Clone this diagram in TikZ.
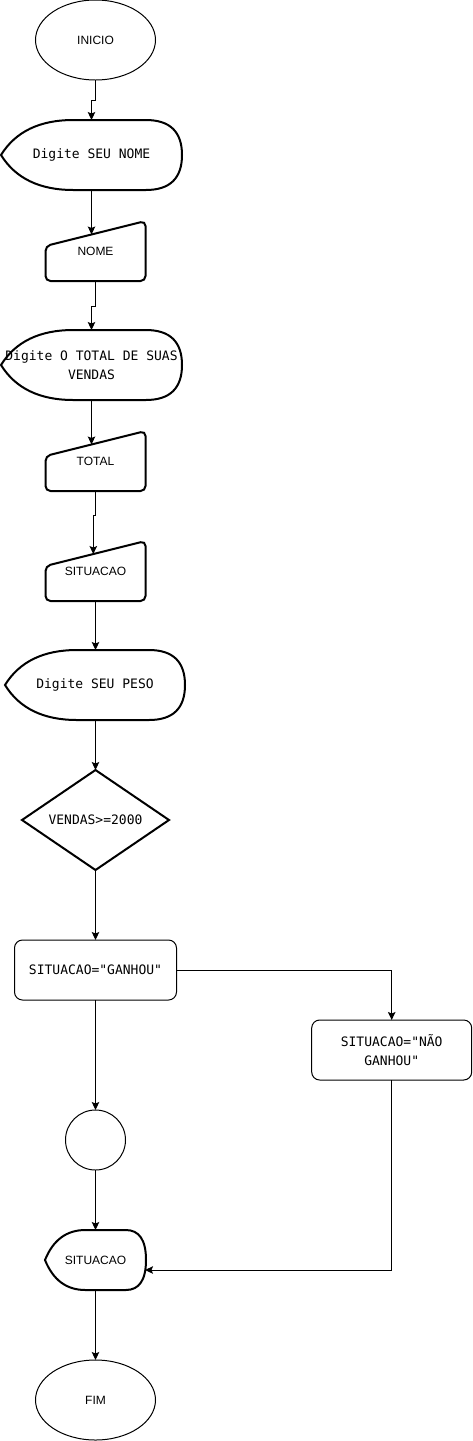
\documentclass[tikz,border=0pt]{standalone}
\usepackage{fontspec}
\setmainfont{Liberation Sans}
\newfontfamily\monofont{DejaVu Sans Mono}
\usetikzlibrary{arrows.meta,calc,shapes.geometric}

% display (output) shape drawn around an invisible node
\newcommand\dispshape[1]{%
 \draw[thickline] let \p1=(#1.north west), \p2=(#1.south east), \n1={\x2-\x1}, \n2={\y1-\y2} in
  (\x1,{(\y1+\y2)/2}) .. controls ({\x1+0.08*\n1},{\y1-\n2/6}) and ({\x1+0.213*\n1},\y1) .. ({\x1+0.4*\n1},\y1)
  -- ({\x2-0.2*\n1},\y1) .. controls ({\x2-0.0667*\n1},\y1) and (\x2,{\y1-\n2/6}) .. (\x2,{(\y1+\y2)/2})
  .. controls (\x2,{\y2+\n2/6}) and ({\x2-0.0667*\n1},\y2) .. ({\x2-0.2*\n1},\y2)
  -- ({\x1+0.4*\n1},\y2) .. controls ({\x1+0.213*\n1},\y2) and ({\x1+0.08*\n1},{\y2+\n2/6}) .. cycle;}
% manual input shape
\newcommand\inshape[1]{%
 \draw[thickline, rounded corners=5pt] ($(#1.north west)+(0,25)$) -- (#1.north east) -- (#1.south east) -- (#1.south west) -- cycle;}

\begin{document}
\begin{tikzpicture}[x=1pt,y=-1pt,
  thinshape/.style={draw, line width=1pt},
  box/.style={inner sep=0pt, outer sep=0pt},
  sanslbl/.style={font=\fontsize{12}{14}\selectfont},
  monolbl/.style={font=\monofont\fontsize{13}{19}\selectfont, align=center},
  thickline/.style={line width=2pt},
  conn/.style={line width=1pt, -{Stealth[length=8pt,width=7.5pt,inset=1.5pt]}}
]
\useasboundingbox (0,0) rectangle (472,1441);

% nodes
\node[box, ellipse, thinshape, minimum width=120pt, minimum height=80pt, sanslbl] (inicio) at (95.5,40) {INICIO};

\node[box, minimum width=181pt, minimum height=70pt, monolbl] (d1) at (91.5,155) {Digite SEU NOME};
\dispshape{d1}

\node[box, minimum width=100pt, minimum height=60pt, sanslbl] (nome) at (95.5,251) {NOME};
\inshape{nome}

\node[box, minimum width=181pt, minimum height=70pt, monolbl] (d2) at (91.5,365) {Digite O TOTAL DE SUAS\\VENDAS};
\dispshape{d2}

\node[box, minimum width=100pt, minimum height=60pt, sanslbl] (total) at (95.5,461) {TOTAL};
\inshape{total}

\node[box, minimum width=100pt, minimum height=60pt, sanslbl] (sit) at (95.5,571) {SITUACAO};
\inshape{sit}

\node[box, minimum width=180pt, minimum height=70pt, monolbl] (d3) at (95,685) {Digite SEU PESO};
\dispshape{d3}

\node[box, minimum width=147pt, minimum height=100pt, monolbl] (dec) at (95.5,820) {VENDAS>=2000};
\draw[thickline] (dec.north) -- (dec.east) -- (dec.south) -- (dec.west) -- cycle;

\node[box, thinshape, rounded corners=8pt, minimum width=162pt, minimum height=60pt, monolbl] (ganhou) at (95.5,970) {SITUACAO="GANHOU"};

\node[box, thinshape, rounded corners=8pt, minimum width=160pt, minimum height=60pt, monolbl] (nao) at (391.7,1050) {SITUACAO="NÃO\\GANHOU"};

\node[box, circle, thinshape, minimum size=60pt] (circ) at (95.5,1140) {};

\node[box, minimum width=101pt, minimum height=60pt, sanslbl] (d4) at (95.5,1260) {SITUACAO};
\dispshape{d4}

\node[box, ellipse, thinshape, minimum width=120pt, minimum height=80pt, sanslbl] (fim) at (95.5,1400) {FIM};

% helper coordinates on slanted tops
\coordinate (nomeTL) at ($(nome.north west)+(0,25)$);
\coordinate (nomeIn) at ($(nomeTL)!0.46!(nome.north east)$);
\coordinate (totalTL) at ($(total.north west)+(0,25)$);
\coordinate (totalIn) at ($(totalTL)!0.46!(total.north east)$);
\coordinate (sitTL) at ($(sit.north west)+(0,25)$);
\coordinate (sitIn) at ($(sitTL)!0.478!(sit.north east)$);
\coordinate (d4in) at ($(d4.east)+(-1,10)$);

% connectors
\draw[conn] (inicio.south) -- ++(0,20) -| (d1.north);
\draw[conn] (d1.south) -- (d1.south |- nomeIn);
\draw[conn] (nome.south) -- ++(0,25) -| (d2.north);
\draw[conn] (d2.south) -- (d2.south |- totalIn);
\draw[conn] (total.south) -- ++(0,24) -| (sitIn);
\draw[conn] (sit.south) -- (sit.south |- d3.north);
\draw[conn] (dec.north |- d3.south) -- (dec.north);
\draw[conn] (dec.south) -- (ganhou.north);
\draw[conn] (ganhou.east) -| (nao.north);
\draw[conn] (ganhou.south) -- (circ.north);
\draw[conn] (circ.south) -- (d4.north);
\draw[conn] (nao.south) |- (d4in);
\draw[conn] (d4.south) -- (fim.north);
\end{tikzpicture}
\end{document}
